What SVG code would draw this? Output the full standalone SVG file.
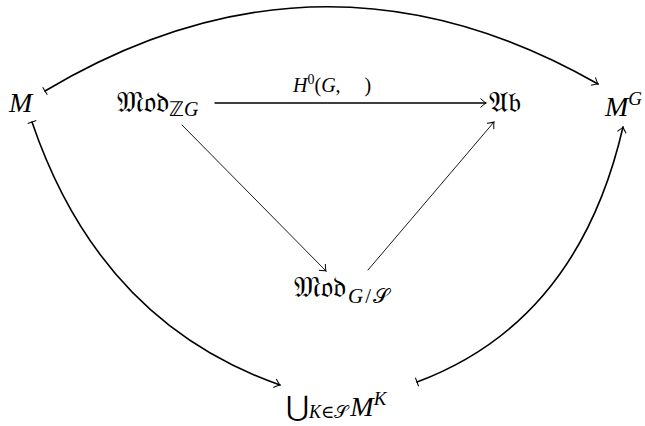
<svg xmlns="http://www.w3.org/2000/svg" width="645" height="426" viewBox="0 0 645 426">
<style>
.t{font-family:"Liberation Serif","DejaVu Serif",serif;fill:#000}
.i{font-style:italic}
.f{font-family:"DejaVu Sans","Noto Sans",serif}
.c{fill:none;stroke:#000;stroke-linecap:round}
.thick{stroke-width:1.6}
.mid{stroke-width:1.3}
.thin{stroke-width:0.9}
</style>
<defs>
<marker id="ah" markerWidth="12" markerHeight="12" refX="0" refY="0" viewBox="-8 -6 10 12" orient="auto" markerUnits="userSpaceOnUse">
<path d="M-5.5,-4.5 Q-1.5,-0.8 0,0 Q-1.5,0.8 -5.5,4.5" fill="none" stroke="#000" stroke-width="1"/>
</marker>
<marker id="bar" markerWidth="12" markerHeight="12" refX="0" refY="0" viewBox="-6 -6 12 12" orient="auto" markerUnits="userSpaceOnUse">
<path d="M0,-4.5 L0,4.5" fill="none" stroke="#000" stroke-width="1"/>
</marker>
</defs>
<g id="connectors">
<path class="c thick" d="M45,91 Q322,-74 598,84" marker-start="url(#bar)" marker-end="url(#ah)"/>
<path class="c thick" d="M32,122 Q100,322 280,385" marker-start="url(#bar)" marker-end="url(#ah)"/>
<path class="c thick" d="M417,382 Q578,322 623,127" marker-start="url(#bar)" marker-end="url(#ah)"/>
<path class="c mid" d="M215,103 L486,103" marker-end="url(#ah)"/>
<path class="c thin" d="M182,125 L326,271" marker-end="url(#ah)"/>
<path class="c thin" d="M368,270 L494,122" marker-end="url(#ah)"/>
<text class="t" x="293" y="92" font-size="20"><tspan class="i">H</tspan><tspan font-size="14" dy="-8">0</tspan><tspan dy="8">(</tspan><tspan class="i">G</tspan>,<tspan dx="24">)</tspan></text>
</g>
<g id="M"><text class="t i" x="9" y="112" font-size="28">M</text></g>
<g id="ModZG"><text class="t" x="117" y="112" font-size="29"><tspan class="f">𝔐𝔬𝔡</tspan><tspan font-size="20" dy="4"><tspan class="f">ℤ</tspan><tspan class="i">G</tspan></tspan></text></g>
<g id="Ab"><text class="t" x="489" y="112" font-size="29"><tspan class="f">𝔄𝔟</tspan></text></g>
<g id="MG"><text class="t i" x="605" y="116" font-size="28">M<tspan font-size="19" dy="-11">G</tspan></text></g>
<g id="ModGS"><text class="t" x="294" y="297" font-size="29"><tspan class="f">𝔐𝔬𝔡</tspan><tspan font-size="21" dy="6" dx="2"><tspan class="i">G</tspan><tspan dx="2">/</tspan><tspan class="f" dx="2">𝒮</tspan></tspan></text></g>
<g id="Union"><text class="t" x="286" y="416" font-size="28">⋃<tspan class="i" font-size="18" dy="2">K</tspan><tspan font-size="18">∈</tspan><tspan class="f" font-size="18">𝒮</tspan><tspan class="i" dy="-2" dx="2">M</tspan><tspan class="i" font-size="19" dy="-11">K</tspan></text></g>
</svg>
